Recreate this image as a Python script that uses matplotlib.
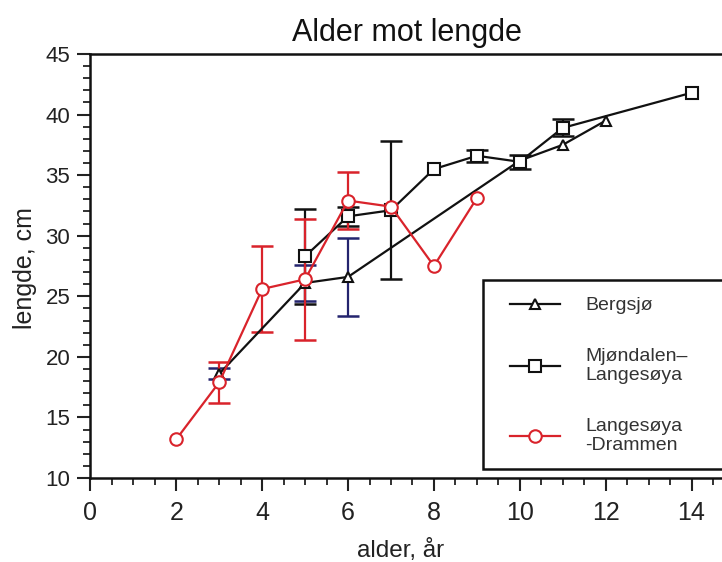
import matplotlib
matplotlib.use("Agg")
import matplotlib.pyplot as plt
from matplotlib.ticker import MultipleLocator
from matplotlib.patches import Rectangle
import numpy as np

plt.rcParams['font.family'] = ['Liberation Sans', 'DejaVu Sans']

# ---- data ----
bergsjo_x = [3, 5, 6, 10, 11, 12]
bergsjo_y = [18.6, 26.1, 26.6, 36.2, 37.5, 39.5]
bergsjo_err = [0.45, 1.5, 3.2, 0, 0, 0]

mjondalen_x = [5, 6, 7, 8, 9, 10, 11, 14]
mjondalen_y = [28.3, 31.6, 32.1, 35.5, 36.6, 36.1, 38.9, 41.8]
mjondalen_err = [3.9, 0.8, 5.7, 0, 0.5, 0.6, 0.7, 0]

drammen_x = [2, 3, 4, 5, 6, 7, 8, 9]
drammen_y = [13.2, 17.9, 25.6, 26.4, 32.9, 32.4, 27.5, 33.1]
drammen_err = [0, 1.7, 3.55, 5.0, 2.35, 0, 0, 0]

labels = ["Bergsjø", "Mjøndalen–\nLangesøya", "Langesøya\n-Drammen"]
x_ticks = [0, 2, 4, 6, 8, 10, 12, 14]
y_ticks = [10, 15, 20, 25, 30, 35, 40, 45]

RED = '#d9232b'
NAVY = '#24246e'
BLACK = '#111111'

W, H = 722, 562
fig = plt.figure(figsize=(W / 100, H / 100), dpi=100)
ax = fig.add_axes([90.4 / W, 84 / H, 644.1 / W, 424 / H])


def draw(x, y, err, color, ecolor, marker, ms, label):
    x = np.array(x); y = np.array(y); err = np.array(err)
    m = err > 0
    ax.errorbar(x[m], y[m], yerr=err[m], fmt='none', ecolor=ecolor,
                elinewidth=1.6, capsize=8, capthick=1.8, zorder=2)
    line, = ax.plot(x, y, color=color, lw=1.6, marker=marker, ms=ms,
                    mfc='white', mec=color, mew=1.5, zorder=3, label=label)
    return line


h1 = draw(bergsjo_x, bergsjo_y, bergsjo_err, BLACK, NAVY, '^', 7, labels[0])
h2 = draw(mjondalen_x, mjondalen_y, mjondalen_err, BLACK, BLACK, 's', 8.5, labels[1])
h3 = draw(drammen_x, drammen_y, drammen_err, RED, RED, 'o', 9, labels[2])

ax.set_xlim(0, 15)
ax.set_ylim(10, 45)
ax.set_xticks(x_ticks)
ax.set_yticks(y_ticks)
ax.xaxis.set_minor_locator(MultipleLocator(0.5))
ax.yaxis.set_minor_locator(MultipleLocator(1))
ax.tick_params(which='major', direction='out', length=9.5, width=1.5,
               colors='#222222')
ax.tick_params(axis='y', which='major', labelsize=16, pad=5)
ax.tick_params(axis='x', which='major', labelsize=18, pad=7)
ax.tick_params(which='minor', direction='out', length=5, width=1.3, colors='#222222')
for s in ax.spines.values():
    s.set_linewidth(1.8)
    s.set_color('#111111')

ax.set_xlabel("alder, år", fontsize=17.5, color='#222222')
ax.xaxis.label.set_va('center')
ax.xaxis.set_label_coords((401 - 90.4) / 644.1, (478 - 550) / 424)
ax.set_ylabel("lengde, cm", fontsize=18, color='#222222')
ax.yaxis.label.set_va('center')
ax.yaxis.set_label_coords((25 - 90.4) / 644.1, (478 - 268) / 424)

fig.text(407 / W, (H - 33) / H, "Alder mot lengde", ha='center', va='center',
         fontsize=22, color='#111111')

# legend box
rect = Rectangle((483 / W, (H - 469) / H), (726 - 483) / W, 189 / H,
                 transform=fig.transFigure, facecolor='white', edgecolor='#111111',
                 lw=1.8, zorder=4, clip_on=False)
fig.patches.append(rect)
leg = fig.legend(handles=[h1, h2, h3], loc='upper left',
                 bbox_to_anchor=(500 / W, (H - 287) / H), bbox_transform=fig.transFigure,
                 frameon=False, borderpad=0, handlelength=2.6, handletextpad=1.3,
                 labelspacing=1.72, fontsize=14)
for t in leg.get_texts():
    t.set_color('#333333')
leg.set_zorder(5)

fig.savefig('out.png', dpi=100)
